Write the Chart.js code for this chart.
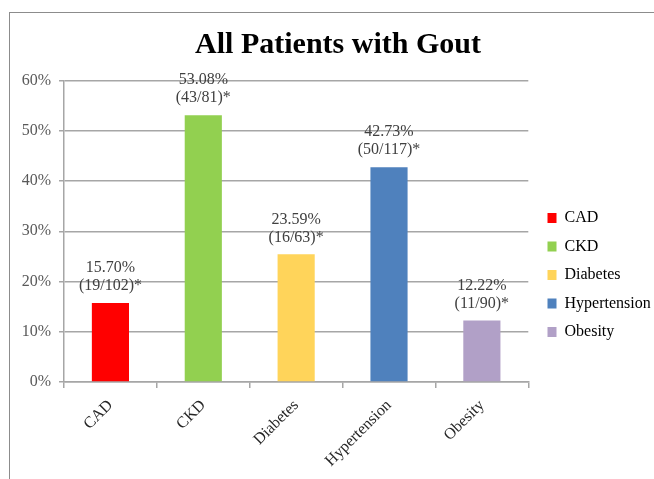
<!DOCTYPE html>
<html lang="en">
<head>
  <meta charset="UTF-8" />
  <title>All Patients with Gout</title>
  <script src="https://cdn.jsdelivr.net/npm/chart.js@4"></script>
  <style>
    body {
      margin: 0;
      background: #ffffff;
      overflow: hidden;
    }

    .wrap {
      position: relative;
      width: 654px;
      height: 479px;
    }

    .frame {
      position: absolute;
      left: 9px;
      top: 12px;
      width: 700px;
      height: 520px;
      border: 1.5px solid #8c8c8c;
    }

    canvas#gout {
      position: absolute;
      left: 0;
      top: 0;
    }
  </style>
</head>
<body>
  <div class="wrap">
    <div class="frame"></div>
    <canvas id="gout" width="654" height="479"></canvas>
  </div>

  <script>
    const categories = ["CAD", "CKD", "Diabetes", "Hypertension", "Obesity"];
    const percents = [15.70, 53.08, 25.4, 42.73, 12.22];
    const pctLabels = ["15.70%", "53.08%", "23.59%", "42.73%", "12.22%"];
    const countLabels = ["(19/102)*", "(43/81)*", "(16/63)*", "(50/117)*", "(11/90)*"];
    const barColors = ["#ff0000", "#92d050", "#ffd45a", "#4f81bd", "#b1a0c7"];
    const yTicks = [0, 10, 20, 30, 40, 50, 60];

    const serif = "'Liberation Serif', 'Times New Roman', serif";
    const gridGray = "#a6a6a6";

    // two-line labels above each bar
    const barLabels = {
      id: 'barLabels',
      afterDatasetsDraw(chart) {
        const ctx = chart.ctx;
        const meta = chart.getDatasetMeta(0);
        ctx.save();
        ctx.font = "16px " + serif;
        ctx.fillStyle = "#404040";
        ctx.textAlign = "center";
        ctx.textBaseline = "middle";
        meta.data.forEach((bar, i) => {
          ctx.fillText(pctLabels[i], bar.x, bar.y - 35);
          ctx.fillText(countLabels[i], bar.x, bar.y - 17);
        });
        ctx.restore();
      }
    };

    // nudge the legend column to where the original sits
    const placeLegend = {
      id: 'placeLegend',
      afterLayout(chart) {
        const lg = chart.legend;
        const left = 535, top = 197.5;
        lg.left = left;
        lg.right = left + lg.width;
        lg.top = top;
        lg.bottom = top + lg.height;
      }
    };

    const chart = new Chart(document.getElementById('gout'), {
      type: 'bar',
      data: {
        labels: categories,
        datasets: [{
          data: percents,
          backgroundColor: barColors,
          borderWidth: 0,
          barPercentage: 0.4,
          categoryPercentage: 1.0
        }]
      },
      options: {
        responsive: false,
        animation: false,
        layout: { padding: { left: 22, right: 0, top: 0, bottom: 0 } },
        scales: {
          x: {
            offset: true,
            grid: {
              offset: true,
              drawOnChartArea: false,
              drawTicks: true,
              tickLength: 6,
              color: gridGray,
              lineWidth: 1.5
            },
            border: { color: gridGray, width: 1.5 },
            ticks: {
              minRotation: 45,
              maxRotation: 45,
              padding: 8,
              color: "#262626",
              font: { family: serif, size: 16 }
            },
            afterFit(scale) { scale.height = 97; }
          },
          y: {
            min: 0,
            max: 60,
            afterBuildTicks(scale) {
              scale.ticks = yTicks.map(v => ({ value: v }));
            },
            grid: {
              color: gridGray,
              lineWidth: 1.5,
              tickLength: 5
            },
            border: { color: gridGray, width: 1.5 },
            ticks: {
              padding: 8,
              color: "#595959",
              font: { family: serif, size: 16 },
              callback: v => v + "%"
            },
            afterFit(scale) { scale.width = 42; }
          }
        },
        plugins: {
          title: {
            display: true,
            text: "All Patients with Gout",
            color: "#000000",
            font: { family: serif, size: 30, weight: 'bold' },
            padding: { top: 27, bottom: 17.5 }
          },
          legend: {
            position: 'right',
            align: 'start',
            fullSize: false,
            labels: {
              boxWidth: 9,
              boxHeight: 10,
              padding: 12.5,
              color: "#262626",
              font: { family: serif, size: 16 },
              generateLabels: (ch) => categories.map((c, i) => ({
                text: c,
                fillStyle: barColors[i],
                strokeStyle: barColors[i],
                lineWidth: 0,
                hidden: false,
                index: i
              }))
            }
          },
          tooltip: { enabled: false }
        }
      },
      plugins: [barLabels, placeLegend]
    });
  </script>
</body>
</html>
